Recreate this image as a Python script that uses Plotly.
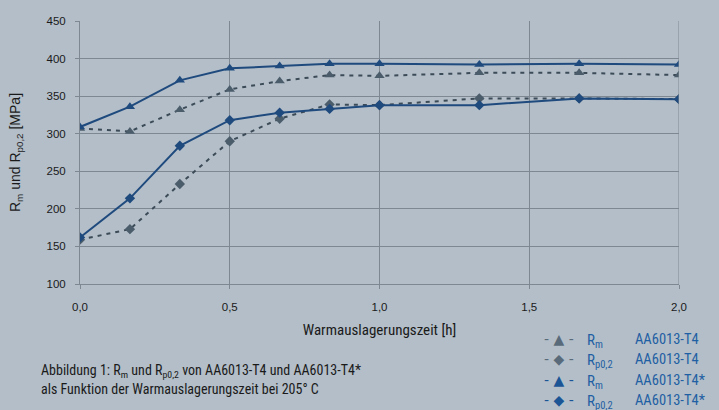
import plotly.graph_objects as go

# Data
zeit = [0.0, 1/6, 1/3, 0.5, 2/3, 5/6, 1.0, 4/3, 5/3, 2.0]
rm_t4 = [307, 303, 332, 359, 370, 378, 377, 381, 381, 378]
rp_t4 = [159, 173, 233, 290, 320, 339, 338, 347, 347, 346]
rm_t4s = [309, 336, 371, 387, 390, 393, 393, 392, 393, 392]
rp_t4s = [162, 214, 284, 318, 328, 333, 338, 338, 347, 346]

x_ticks = [0.0, 0.5, 1.0, 1.5, 2.0]
x_ticklabels = ["0,0", "0,5", "1,0", "1,5", "2,0"]
y_ticks = [100, 150, 200, 250, 300, 350, 400, 450]

BG = "#b3bec8"
SOLID = "#1f4a7e"
DASHC = "#3c4b58"
DASHM = "#4b5c6b"
GRID = "#7e8892"
LEG_T4 = "#596b7b"
LEG_T4S = "#1b5596"
BLUE_TXT = "#1f5fa3"
NARROW = "Liberation Sans Narrow, Roboto Condensed, Liberation Sans, sans-serif"

fig = go.Figure()

fig.add_trace(go.Scatter(x=zeit, y=rm_t4, mode="lines+markers",
                         line=dict(color=DASHC, width=2, dash="4px,5px"),
                         marker=dict(symbol="triangle-up", size=9, color=DASHM),
                         showlegend=False))
fig.add_trace(go.Scatter(x=zeit, y=rp_t4, mode="lines+markers",
                         line=dict(color=DASHC, width=2, dash="4px,5px"),
                         marker=dict(symbol="diamond", size=8, color=DASHM),
                         showlegend=False))
fig.add_trace(go.Scatter(x=zeit, y=rm_t4s, mode="lines+markers",
                         line=dict(color=SOLID, width=2),
                         marker=dict(symbol="triangle-up", size=9, color=SOLID),
                         showlegend=False))
fig.add_trace(go.Scatter(x=zeit, y=rp_t4s, mode="lines+markers",
                         line=dict(color=SOLID, width=2),
                         marker=dict(symbol="diamond", size=8, color=SOLID),
                         showlegend=False))

tickfont = dict(family="Liberation Sans, Arial, sans-serif", size=11.5, color="#1a1a1a")

fig.update_xaxes(range=[0, 2.0], tickvals=x_ticks, ticktext=x_ticklabels,
                 showgrid=True, gridcolor=GRID, gridwidth=1,
                 showline=True, linecolor=GRID, linewidth=1, mirror=False,
                 ticks="outside", ticklen=4, tickcolor=GRID,
                 ticklabelstandoff=8,
                 tickfont=tickfont, zeroline=False,
                 title=dict(text="Warmauslagerungszeit [h]",
                            font=dict(family=NARROW, size=15, color="#1a1a1a"),
                            standoff=12))
fig.update_yaxes(range=[100, 450], tickvals=y_ticks,
                 showgrid=True, gridcolor=GRID, gridwidth=1,
                 showline=True, linecolor=GRID, linewidth=1,
                 ticks="outside", ticklen=4, tickcolor=GRID,
                 ticklabelstandoff=7,
                 tickfont=tickfont, zeroline=False,
                 title=dict(text="R<sub>m</sub> und R<sub>p0,2</sub> [MPa]",
                            font=dict(family="Liberation Sans, Arial, sans-serif", size=14, color="#1a1a1a"),
                            standoff=22))

# right border line
fig.add_shape(type="line", xref="x", yref="y", x0=2.0, x1=2.0, y0=100, y1=450,
              line=dict(color=GRID, width=1))

W, H = 719, 410
L, R, T, B = 80, 40, 21, 126
pw, ph = W - L - R, H - T - B

def px(xp):
    return (xp - L) / pw

def py(yp):
    return (H - B - yp) / ph

annos = []
cap_font = dict(family=NARROW, size=14, color="#1a1a1a")
annos.append(dict(xref="paper", yref="paper", x=px(39), y=py(371), xanchor="left", yanchor="middle",
                  text="Abbildung 1: R<sub>m</sub> und R<sub>p0,2</sub> von AA6013-T4 und AA6013-T4*",
                  showarrow=False, font=cap_font))
annos.append(dict(xref="paper", yref="paper", x=px(39), y=py(389), xanchor="left", yanchor="middle",
                  text="als Funktion der Warmauslagerungszeit bei 205° C",
                  showarrow=False, font=cap_font))

legend_rows = [
    ("▲", LEG_T4, "R<sub>m</sub>", "AA6013-T4"),
    ("◆", LEG_T4, "R<sub>p0,2</sub>", "AA6013-T4"),
    ("▲", LEG_T4S, "R<sub>m</sub>", "AA6013-T4*"),
    ("◆", LEG_T4S, "R<sub>p0,2</sub>", "AA6013-T4*"),
]

row_y = [339, 359, 380, 400]
for (sym, col, rlab, name), yy in zip(legend_rows, row_y):
    annos.append(dict(xref="paper", yref="paper", x=px(559), y=py(yy), xanchor="center", yanchor="middle",
                      text=f"- {sym} -", showarrow=False,
                      font=dict(family="DejaVu Sans, sans-serif", size=14, color=col)))
    annos.append(dict(xref="paper", yref="paper", x=px(585), y=py(yy + 2), xanchor="left", yanchor="middle",
                      text=rlab, showarrow=False,
                      font=dict(family=NARROW, size=15, color=BLUE_TXT)))
    annos.append(dict(xref="paper", yref="paper", x=px(633), y=py(yy), xanchor="left", yanchor="middle",
                      text=name, showarrow=False,
                      font=dict(family=NARROW, size=14.5, color=BLUE_TXT)))

fig.update_layout(width=W, height=H,
                  margin=dict(l=L, r=R, t=T, b=B),
                  paper_bgcolor=BG, plot_bgcolor=BG,
                  annotations=annos)

fig.write_html("out.html", config={"displayModeBar": False},
               post_script="document.body.style.margin='0';document.body.style.background='" + BG + "';")
